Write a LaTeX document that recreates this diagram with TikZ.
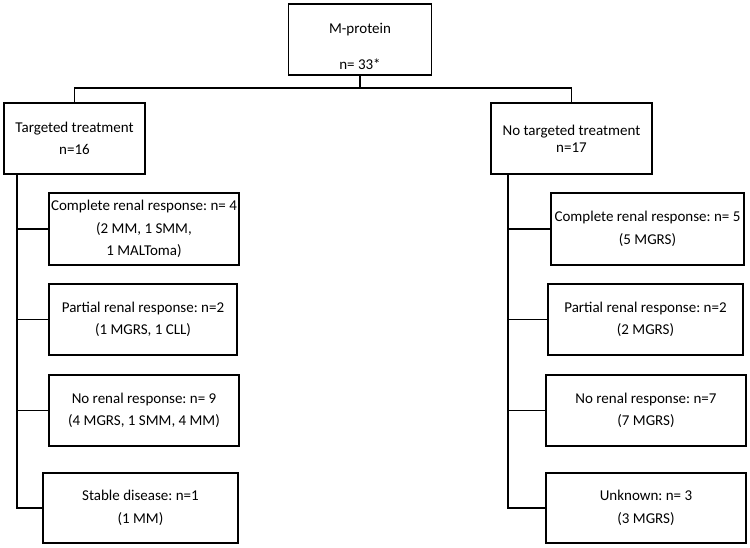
\documentclass[tikz,border=0pt]{standalone}
\usepackage{fontspec}
\setmainfont{Carlito}
\usetikzlibrary{positioning,calc}
\frenchspacing

\begin{document}
\begin{tikzpicture}[every text node part/.style={align=center}]
\tikzset{myFont/.style={font=\fontsize{15}{22.5}\selectfont}}
\tikzset{myBox/.style={draw,line width=1.3pt,inner sep=0pt,outer sep=0pt,myFont,minimum height=71pt}}
\tikzset{myLine/.style={draw,line width=1.3pt}}

\useasboundingbox (0,0) rectangle (750pt,-548pt);

\node[myBox,minimum width=143pt] (prot) at (360pt,-39.5pt) {\rule{0pt}{24pt}M-protein\\[13pt]n= 33*};
\node[myBox,minimum width=141pt,below left=28pt and 143.5pt of prot.south west] (treat1) {Targeted treatment\\n=16};
\node[myBox,minimum width=161pt,font=\fontsize{15}{17}\selectfont,below right=28pt and 59.5pt of prot.south east] (treat2) {No targeted treatment\\n=17};

\coordinate[below=13pt of prot.south] (split);
\path[myLine] (prot) -- (split);
\path[myLine] (split) -| (treat1);
\path[myLine] (split) -| (treat2);

% targeted treatment
\node[myBox,minimum width=190pt,minimum height=72pt,below right=19pt and 45pt of treat1.south west] (resp1) {Complete renal response: n= 4\\(2 MM, 1 SMM,\\1 MALToma)};
\node[myBox,minimum width=188pt,below right=19pt and 0pt of resp1.south west] (resp2) {Partial renal response: n=2\\(1 MGRS, 1 CLL)};
\node[myBox,minimum width=190pt,below right=20pt and 0pt of resp2.south west] (resp3) {No renal response: n= 9\\(4 MGRS, 1 SMM, 4 MM)};
\node[myBox,minimum width=195pt,minimum height=70pt,below right=27pt and -6pt of resp3.south west] (resp4) {Stable disease: n=1\\(1 MM)};

\coordinate (trunk1) at ($(treat1.south west)+(13pt,0)$);
\path[myLine] (trunk1) |- (resp1);
\path[myLine] (trunk1) |- (resp2);
\path[myLine] (trunk1) |- (resp3);
\path[myLine] (trunk1) |- (resp4);

% no targeted treatment
\node[myBox,minimum width=193pt,minimum height=72pt,below right=19pt and 60pt of treat2.south west] (noresp1) {Complete renal response: n= 5\\(5 MGRS)};
\node[myBox,minimum width=195pt,below right=19pt and -3pt of noresp1.south west] (noresp2) {Partial renal response: n=2\\(2 MGRS)};
\node[myBox,minimum width=200pt,below right=20pt and -2pt of noresp2.south west] (noresp3) {No renal response: n=7\\(7 MGRS)};
\node[myBox,minimum width=200pt,minimum height=70pt,below right=27pt and 0pt of noresp3.south west] (noresp4) {Unknown: n= 3\\(3 MGRS)};

\coordinate (trunk2) at ($(treat2.south west)+(17pt,0)$);
\path[myLine] (trunk2) |- (noresp1);
\path[myLine] (trunk2) |- (noresp2);
\path[myLine] (trunk2) |- (noresp3);
\path[myLine] (trunk2) |- (noresp4);

\end{tikzpicture}
\end{document}
